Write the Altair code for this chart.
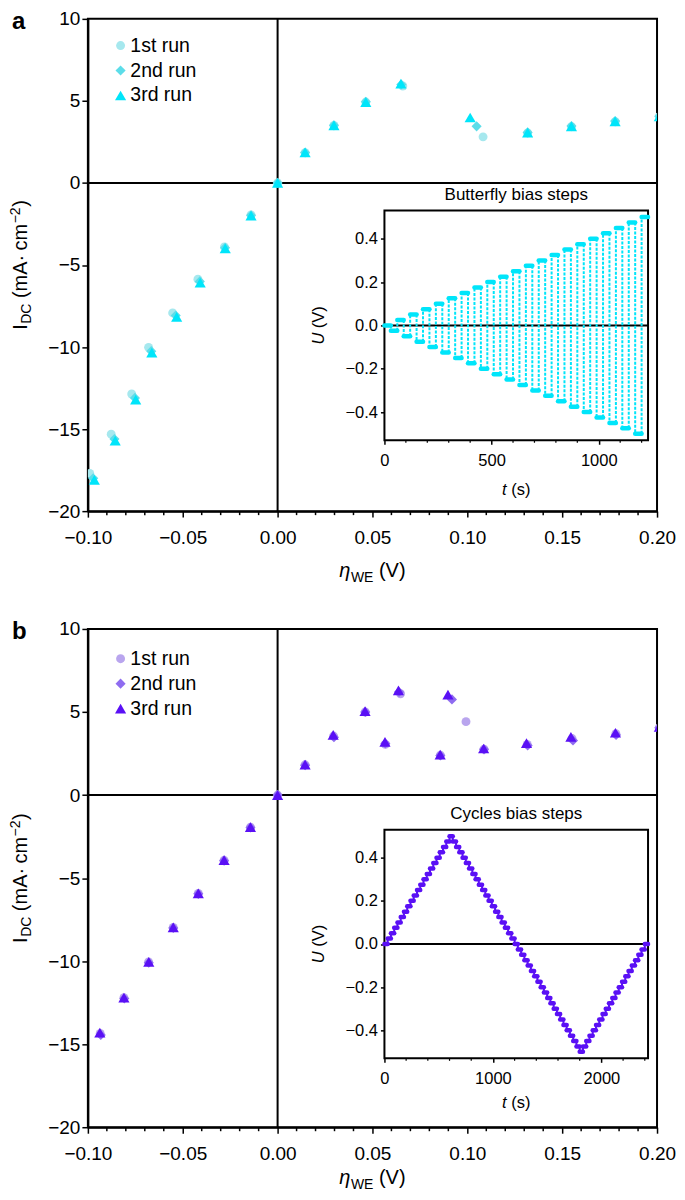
import altair as alt
import pandas as pd

FONT = "Liberation Sans"

# ---------------- data ----------------
RUNS = ["1st run", "2nd run", "3rd run"]
SHAPES = ["circle", "diamond", "triangle-up"]
SIZES = [80, 125, 90]
COLORS_A = ["#a6e8ee", "#5cdde9", "#00e5fa"]
COLORS_B = ["#b9a5ee", "#8f6cf0", "#5a10f5"]
STEP_COLOR_A = "#00e5fa"
STEP_COLOR_B = "#5a10f5"

# panel a : butterfly bias steps
A_ETA = {
    "1st run": [-0.099, -0.0877, -0.0769, -0.068, -0.0553, -0.042, -0.028, -0.014, 0.0, 0.0145, 0.0297, 0.0465, 0.066, 0.1083, 0.1318, 0.1549, 0.178, 0.2012],
    "2nd run": [-0.0972, -0.086, -0.0752, -0.0666, -0.0537, -0.041, -0.0277, -0.014, 0.0, 0.0145, 0.0297, 0.0465, 0.0652, 0.1049, 0.1318, 0.1549, 0.1779, 0.2012],
    "3rd run": [-0.0966, -0.0856, -0.0748, -0.0663, -0.0532, -0.0408, -0.0276, -0.014, 0.0, 0.0145, 0.0297, 0.0465, 0.065, 0.1015, 0.1318, 0.1549, 0.1779, 0.2012],
}
A_IDC = {
    "1st run": [-17.7, -15.31, -12.86, -10.02, -7.92, -5.87, -3.9, -1.95, 0.0, 1.85, 3.5, 4.93, 5.91, 2.81, 3.05, 3.43, 3.73, 4.05],
    "2nd run": [-18.0, -15.6, -13.1, -10.25, -8.08, -6.0, -3.95, -1.97, 0.0, 1.86, 3.51, 4.95, 6.0, 3.45, 3.08, 3.47, 3.77, 4.07],
    "3rd run": [-18.1, -15.7, -13.2, -10.34, -8.16, -6.07, -3.99, -1.99, 0.0, 1.86, 3.51, 4.93, 6.05, 3.99, 3.07, 3.45, 3.75, 4.05],
}

# panel b : cycles bias steps
B_ETA = {
    "1st run": [-0.0935, -0.081, -0.068, -0.055, -0.0418, -0.0282, -0.0143, 0.0, 0.0145, 0.0295, 0.0462, 0.0648, 0.0568, 0.0993, 0.0858, 0.1088, 0.1316, 0.1552, 0.1783, 0.2012],
    "2nd run": [-0.0932, -0.0808, -0.0679, -0.055, -0.0418, -0.0282, -0.0143, 0.0, 0.0145, 0.0297, 0.0462, 0.064, 0.0568, 0.0919, 0.0858, 0.1088, 0.1318, 0.1557, 0.1784, 0.2012],
    "3rd run": [-0.0937, -0.081, -0.0679, -0.055, -0.0418, -0.0282, -0.0143, 0.0, 0.0145, 0.0293, 0.0461, 0.0637, 0.0566, 0.0898, 0.0857, 0.1086, 0.1312, 0.1546, 0.1781, 0.2012],
}
B_IDC = {
    "1st run": [-14.35, -12.2, -10.05, -7.97, -5.93, -3.93, -1.94, 0.0, 1.82, 3.55, 5.0, 6.1, 3.05, 4.42, 2.4, 2.76, 3.05, 3.4, 3.7, 4.05],
    "2nd run": [-14.45, -12.25, -10.1, -8.0, -5.95, -3.95, -1.95, 0.0, 1.8, 3.48, 5.0, 6.2, 3.1, 5.76, 2.38, 2.75, 2.98, 3.28, 3.62, 4.05],
    "3rd run": [-14.3, -12.2, -10.05, -7.97, -5.92, -3.92, -1.93, 0.0, 1.83, 3.62, 5.05, 6.3, 3.2, 6.05, 2.43, 2.8, 3.13, 3.5, 3.75, 4.1],
}

# inset a : butterfly steps (start time of each step, s ; bias, V)
A_STEP_T = [0, 30, 60, 90, 120, 150, 180, 210, 240, 270, 300, 330, 360, 390, 420, 450, 480, 510, 540, 570,
            600, 630, 660, 690, 720, 750, 780, 810, 840, 870, 900, 930, 960, 990, 1020, 1050, 1080, 1110,
            1140, 1170, 1200]
A_STEP_U = [0.0, -0.025, 0.025, -0.05, 0.05, -0.075, 0.075, -0.1, 0.1, -0.125, 0.125, -0.15, 0.15,
            -0.175, 0.175, -0.2, 0.2, -0.225, 0.225, -0.25, 0.25, -0.275, 0.275, -0.3, 0.3, -0.325, 0.325,
            -0.35, 0.35, -0.375, 0.375, -0.4, 0.4, -0.425, 0.425, -0.45, 0.45, -0.475, 0.475, -0.5, 0.5]
A_T_END = 1230

# inset b : cycles steps
B_STEP_T = [0, 30, 60, 90, 120, 150, 180, 210, 240, 270, 300, 330, 360, 390, 420, 450, 480, 510, 540, 570,
            600, 630, 660, 690, 720, 750, 780, 810, 840, 870, 900, 930, 960, 990, 1020, 1050, 1080, 1110,
            1140, 1170, 1200, 1230, 1260, 1290, 1320, 1350, 1380, 1410, 1440, 1470, 1500, 1530, 1560, 1590,
            1620, 1650, 1680, 1710, 1740, 1770, 1800, 1830, 1860, 1890, 1920, 1950, 1980, 2010, 2040, 2070,
            2100, 2130, 2160, 2190, 2220, 2250, 2280, 2310, 2340, 2370, 2400]
B_STEP_U = [0.0, 0.025, 0.05, 0.075, 0.1, 0.125, 0.15, 0.175, 0.2, 0.225, 0.25, 0.275, 0.3, 0.325, 0.35,
            0.375, 0.4, 0.425, 0.45, 0.475, 0.5, 0.475, 0.45, 0.425, 0.4, 0.375, 0.35, 0.325, 0.3, 0.275,
            0.25, 0.225, 0.2, 0.175, 0.15, 0.125, 0.1, 0.075, 0.05, 0.025, 0.0, -0.025, -0.05, -0.075, -0.1,
            -0.125, -0.15, -0.175, -0.2, -0.225, -0.25, -0.275, -0.3, -0.325, -0.35, -0.375, -0.4, -0.425,
            -0.45, -0.475, -0.5, -0.475, -0.45, -0.425, -0.4, -0.375, -0.35, -0.325, -0.3, -0.275, -0.25,
            -0.225, -0.2, -0.175, -0.15, -0.125, -0.1, -0.075, -0.05, -0.025, 0.0]
B_T_END = 2430

# axes ticks
X_TICKS = [-0.10, -0.05, 0.00, 0.05, 0.10, 0.15, 0.20]
X_MINOR = [-0.09, -0.08, -0.07, -0.06, -0.04, -0.03, -0.02, -0.01, 0.01, 0.02, 0.03, 0.04,
           0.06, 0.07, 0.08, 0.09, 0.11, 0.12, 0.13, 0.14, 0.16, 0.17, 0.18, 0.19]
Y_TICKS = [-20, -15, -10, -5, 0, 5, 10]
X_DOMAIN = [-0.10, 0.20]
Y_DOMAIN = [-20, 10]
U_TICKS = [-0.4, -0.2, 0.0, 0.2, 0.4]
U_DOMAIN = [-0.53, 0.53]
A_T_TICKS = [0, 500, 1000]
A_T_MINOR = [100, 200, 300, 400, 600, 700, 800, 900, 1100, 1200]
B_T_TICKS = [0, 1000, 2000]
B_T_MINOR = [200, 400, 600, 800, 1200, 1400, 1600, 1800, 2200, 2400]

# ---------------- layout (pixels) ----------------
W = 570
H_A = 493
H_B = 499
IX0, IX1 = 297, 561      # inset left/right inside plot
FS = 19                  # main tick font
IFS = 16.5               # inset font

CW = {'I': .278, 'D': .722, 'C': .722, '(': .333, ')': .333, 'm': .833, 'A': .667, '·': .278,
      ' ': .278, 'c': .5, '−': .584, '2': .556, 'η': .556, 'W': .944, 'E': .667, 'V': .667,
      'U': .722, 't': .278, 's': .5}


def tw(s, size):
    return sum(CW.get(ch, 0.556) for ch in s) * size


DUMMY = pd.DataFrame({"d": [0]})


def htext(pieces, cx, y):
    total = sum(g + tw(t, sz) for t, sz, it, dy, g in pieces)
    x = cx - total / 2
    out = []
    for t, sz, it, dy, g in pieces:
        x += g
        out.append(alt.Chart(DUMMY).mark_text(
            text=t, align="left", baseline="alphabetic", fontSize=sz, font=FONT,
            fontStyle="italic" if it else "normal", color="black"
        ).encode(x=alt.value(x), y=alt.value(y + dy)))
        x += tw(t, sz)
    return out


def vtext(pieces, bx, cy):
    total = sum(g + tw(t, sz) for t, sz, it, dx, g in pieces)
    y = cy + total / 2
    out = []
    for t, sz, it, dx, g in pieces:
        y -= g
        out.append(alt.Chart(DUMMY).mark_text(
            text=t, align="left", baseline="alphabetic", fontSize=sz, font=FONT, angle=270,
            fontStyle="italic" if it else "normal", color="black"
        ).encode(x=alt.value(bx + dx), y=alt.value(y)))
        y -= tw(t, sz)
    return out


def points_df(eta, idc):
    rows = []
    for r in RUNS:
        for e, i in zip(eta[r], idc[r]):
            rows.append({"eta": e, "I": i, "run": r})
    return pd.DataFrame(rows)


def panel(H, iyt, iyb, eta, idc, colors, step_color, step_t, step_u, t_end, t_ticks, t_minor,
          inset_title, letter, xtitle_y, ttitle_y, dashed, legend_y):
    xs = alt.Scale(domain=X_DOMAIN, nice=False, zero=False)
    ys = alt.Scale(domain=Y_DOMAIN, nice=False, zero=False)
    leg = alt.Legend(title=None, orient="none", legendX=23, legendY=legend_y, labelFontSize=19.5,
                     labelFont=FONT, rowPadding=4, labelOffset=0, padding=0,
                     symbolStrokeWidth=0, labelColor="black")
    x_axis = alt.Axis(values=X_TICKS, format=".2f", title=None, tickSize=6, tickWidth=1.5,
                      domainWidth=2, labelFontSize=FS, labelPadding=11, labelFlush=False,
                      labelOverlap=False, grid=False)
    y_axis = alt.Axis(values=Y_TICKS, format="d", title=None, tickSize=6, tickWidth=1.5,
                      domainWidth=2, labelFontSize=FS, labelPadding=2, labelFlush=False,
                      labelOverlap=False, grid=False)

    zero_v = alt.Chart(DUMMY).mark_rule(color="black", strokeWidth=2).encode(
        x=alt.X(datum=0, scale=xs, axis=x_axis))
    zero_h = alt.Chart(DUMMY).mark_rule(color="black", strokeWidth=2).encode(
        y=alt.Y(datum=0, scale=ys, axis=y_axis))
    minor = alt.Chart(pd.DataFrame({"v": X_MINOR})).mark_rule(color="black", strokeWidth=1.5).encode(
        x=alt.X("v:Q", scale=xs, axis=x_axis), y=alt.value(H), y2=alt.value(H + 4))
    pts = alt.Chart(points_df(eta, idc)).mark_point(filled=True, opacity=1, clip=True).encode(
        x=alt.X("eta:Q", scale=xs, axis=x_axis),
        y=alt.Y("I:Q", scale=ys, axis=y_axis),
        color=alt.Color("run:N", scale=alt.Scale(domain=RUNS, range=colors), legend=leg),
        shape=alt.Shape("run:N", scale=alt.Scale(domain=RUNS, range=SHAPES), legend=leg),
        size=alt.Size("run:N", scale=alt.Scale(domain=RUNS, range=SIZES), legend=leg),
    )
    texts = []
    texts += vtext([("I", 20, False, 0, 0), ("DC", 14, False, 4, 0.5), ("(mA·", 20, False, 0, 5.5),
                    ("cm", 20, False, 0, 5.5), ("−2", 14, False, -7, 0.5), (")", 20, False, 0, 0.5)],
                   -61, H / 2)
    texts += htext([("η", 20, True, 0, 0), ("WE", 14, False, 5, 0.5), ("(V)", 20, False, 0, 5.5)],
                   W / 2, xtitle_y)
    texts.append(alt.Chart(DUMMY).mark_text(
        text=letter, align="left", baseline="alphabetic", fontSize=24, fontWeight="bold",
        font=FONT, color="black").encode(x=alt.value(-76), y=alt.value(10)))

    main = alt.layer(zero_v, zero_h, minor, pts, *texts)

    # ---- inset ----
    ixs = alt.Scale(domain=[0, t_end], range=[IX0, IX1], nice=False, zero=False)
    iys = alt.Scale(domain=U_DOMAIN, range=[iyb, iyt], nice=False, zero=False)
    ix_axis = alt.Axis(values=t_ticks, format="d", orient="bottom", offset=-(H - iyb), title=None,
                       tickSize=4, tickWidth=1.5, domain=False, grid=False, labelFontSize=IFS,
                       labelPadding=8, labelFlush=False, labelOverlap=False)
    iy_axis = alt.Axis(values=U_TICKS, format=".1f", orient="left", offset=-IX0, title=None,
                       tickSize=4, tickWidth=1.5, domain=False, grid=False, labelFontSize=IFS,
                       labelPadding=3, labelFlush=False, labelOverlap=False)
    frame = alt.Chart(pd.DataFrame({"x0": [0], "x1": [t_end], "y0": [U_DOMAIN[0]], "y1": [U_DOMAIN[1]]})).mark_rect(
        fill="white", stroke="black", strokeWidth=2).encode(
        x=alt.X("x0:Q", scale=ixs, axis=ix_axis), x2="x1:Q",
        y=alt.Y("y0:Q", scale=iys, axis=iy_axis), y2="y1:Q")
    izero = alt.Chart(pd.DataFrame({"x0": [0], "x1": [t_end], "y": [0.0]})).mark_rule(
        color="black", strokeWidth=2).encode(
        x=alt.X("x0:Q", scale=ixs, axis=ix_axis), x2="x1:Q", y=alt.Y("y:Q", scale=iys, axis=iy_axis))
    ends = step_t[1:] + [t_end]
    bars = alt.Chart(pd.DataFrame({"t0": step_t, "t1": ends, "u": step_u})).mark_rule(
        color=step_color, strokeWidth=4.5, strokeCap="round").encode(
        x=alt.X("t0:Q", scale=ixs, axis=ix_axis), x2="t1:Q", y=alt.Y("u:Q", scale=iys, axis=iy_axis))
    conn_kw = dict(color=step_color, strokeWidth=2)
    if dashed:
        conn_kw["strokeDash"] = [3, 1.5]
    conns = alt.Chart(pd.DataFrame({"t": step_t[1:], "u0": step_u[:-1], "u1": step_u[1:]})).mark_rule(
        **conn_kw).encode(
        x=alt.X("t:Q", scale=ixs, axis=ix_axis), y=alt.Y("u0:Q", scale=iys, axis=iy_axis), y2="u1:Q")
    iminor = alt.Chart(pd.DataFrame({"v": t_minor})).mark_rule(color="black", strokeWidth=1.2).encode(
        x=alt.X("v:Q", scale=ixs, axis=ix_axis), y=alt.value(iyb), y2=alt.value(iyb + 2.5))
    itexts = [alt.Chart(DUMMY).mark_text(
        text=inset_title, align="center", baseline="middle", fontSize=17, font=FONT, color="black"
    ).encode(x=alt.value((IX0 + IX1) / 2), y=alt.value(iyt - 16))]
    itexts += vtext([("U", IFS, True, 0, 0), ("(V)", IFS, False, 0, 4.5)], IX0 - 61, (iyt + iyb) / 2)
    itexts += htext([("t", IFS, True, 0, 0), ("(s)", IFS, False, 0, 4.5)], (IX0 + IX1) / 2, ttitle_y)

    inset = alt.layer(frame, izero, conns, bars, iminor, *itexts)

    return alt.layer(main, inset).resolve_scale(x="independent", y="independent").properties(
        width=W, height=H)


pa = panel(H_A, 192, 422, A_ETA, A_IDC, COLORS_A, STEP_COLOR_A, A_STEP_T, A_STEP_U, A_T_END, A_T_TICKS,
           A_T_MINOR, "Butterfly bias steps", "a", H_A + 66, 422 + 55, True, 17)
pb = panel(H_B, 201, 430, B_ETA, B_IDC, COLORS_B, STEP_COLOR_B, B_STEP_T, B_STEP_U, B_T_END, B_T_TICKS,
           B_T_MINOR, "Cycles bias steps", "b", H_B + 57, 430 + 50, False, 20)

chart = alt.vconcat(pa, pb, spacing=118, bounds="flush").resolve_scale(
    color="independent", shape="independent", size="independent").resolve_legend(
    color="independent", shape="independent", size="independent").properties(
    padding=0).configure(
    font=FONT).configure_view(stroke="black", strokeWidth=2).configure_axis(
    labelColor="black", tickColor="black", domainColor="black", labelFont=FONT)

chart.save("out.html", embed_options={"renderer": "svg", "actions": False})
